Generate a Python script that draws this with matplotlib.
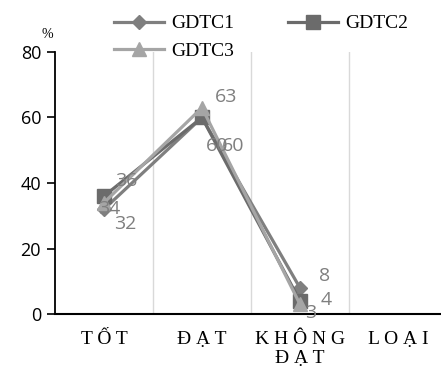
import matplotlib
matplotlib.use('Agg')
import matplotlib.pyplot as plt

categories = ['T Ố T', 'Đ Ạ T', 'K H Ô N G\nĐ Ạ T', 'L O Ạ I']
gdtc1 = [32, 60, 8]
gdtc2 = [36, 60, 4]
gdtc3 = [34, 63, 3]

series = [
    ('GDTC1', gdtc1, '#7f7f7f', 'D', 7.5, [(7, -14), (3, -24), (14, 5)]),
    ('GDTC2', gdtc2, '#6b6b6b', 's', 9.5, [(8, 7), (14, -24), (15, -3)]),
    ('GDTC3', gdtc3, '#a5a5a5', '^', 10, [(-4, -8), (9, 4), (4, -10)]),
]

fig = plt.figure(figsize=(4.41, 3.76), dpi=100)
ax = fig.add_axes([55 / 441, 62 / 376, 386 / 441, 262 / 376])

handles = {}
for name, vals, color, marker, ms, offs in series:
    x = list(range(len(vals)))
    h, = ax.plot(x, vals, color=color, marker=marker, markersize=ms, linewidth=2.3,
                 label=name, zorder=3)
    handles[name] = h
    for xi, v, (dx, dy) in zip(x, vals, offs):
        ax.annotate(str(v), (xi, v), xytext=(dx, dy), textcoords='offset points',
                    fontsize=14, color='#7f7f7f', family='Open Sans', zorder=4)

ax.set_xlim(-0.5, 3.44)
ax.set_ylim(0, 80)
ax.set_yticks([0, 20, 40, 60, 80])
ax.set_xticks(range(len(categories)))
ax.set_xticklabels(categories, family='Liberation Serif', fontsize=14)
ax.set_xticks([0.5, 1.5, 2.5], minor=True)
ax.grid(True, which='minor', axis='x', color='#d9d9d9', linewidth=1)
ax.tick_params(axis='x', which='both', length=0, pad=12)
ax.tick_params(axis='y', length=6, width=1.2, labelsize=13, pad=4)
for lab in ax.get_yticklabels():
    lab.set_family('Open Sans')
ax.spines['top'].set_visible(False)
ax.spines['right'].set_visible(False)
ax.spines['left'].set_linewidth(1.3)
ax.spines['bottom'].set_linewidth(1.5)

order = ['GDTC1', 'GDTC3', 'GDTC2']
fig.legend([handles[n] for n in order], order, loc='upper left',
           bbox_to_anchor=(106 / 441, 1 - 7 / 376), ncol=2, frameon=False,
           prop={'family': 'Liberation Serif', 'size': 14}, handlelength=2.6,
           columnspacing=2.75, handletextpad=0.35, labelspacing=0.5, borderaxespad=0)
fig.text(41 / 441, 1 - 38 / 376, '%', fontsize=10, family='Liberation Serif')

fig.savefig('out.png', dpi=100)
